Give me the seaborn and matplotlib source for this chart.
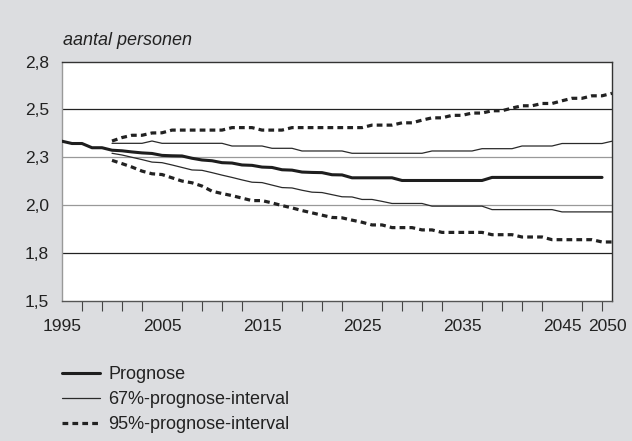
import pandas as pd
import matplotlib.pyplot as plt
import seaborn as sns

# Gemiddelde huishoudensgrootte (aantal personen), prognose en intervallen
jaren_prognose = list(range(1995, 2050))
prognose = [
    2.334, 2.322, 2.322, 2.300, 2.300,                                      # 1995-1999
    2.287, 2.284, 2.278, 2.273, 2.270, 2.260, 2.258, 2.257, 2.245, 2.236,  # 2000-2009
    2.232, 2.222, 2.220, 2.210, 2.208, 2.199, 2.197, 2.185, 2.183, 2.173,  # 2010-2019
    2.171, 2.170, 2.159, 2.158, 2.143, 2.143, 2.143, 2.143, 2.143, 2.129,  # 2020-2029
    2.129, 2.129, 2.129, 2.129, 2.129, 2.129, 2.129, 2.129, 2.145, 2.145,  # 2030-2039
    2.145, 2.145, 2.145, 2.145, 2.145, 2.145, 2.145, 2.145, 2.145, 2.145,  # 2040-2049
]

jaren_interval = list(range(2000, 2051))
int67_boven = [
    2.323, 2.323, 2.323, 2.323, 2.335, 2.323, 2.323, 2.323, 2.323, 2.323,
    2.323, 2.323, 2.309, 2.309, 2.309, 2.309, 2.297, 2.297, 2.297, 2.283,
    2.283, 2.283, 2.283, 2.283, 2.271, 2.271, 2.271, 2.271, 2.271, 2.271,
    2.271, 2.271, 2.283, 2.283, 2.283, 2.283, 2.283, 2.295, 2.295, 2.295,
    2.295, 2.309, 2.309, 2.309, 2.309, 2.322, 2.322, 2.322, 2.322, 2.322,
    2.334,
]
int67_onder = [
    2.271, 2.262, 2.250, 2.238, 2.225, 2.222, 2.210, 2.197, 2.184, 2.182,
    2.170, 2.157, 2.145, 2.132, 2.120, 2.118, 2.105, 2.092, 2.090, 2.078,
    2.068, 2.066, 2.055, 2.044, 2.043, 2.030, 2.030, 2.020, 2.009, 2.009,
    2.009, 2.009, 1.995, 1.995, 1.995, 1.995, 1.995, 1.995, 1.977, 1.977,
    1.977, 1.977, 1.977, 1.977, 1.977, 1.965, 1.965, 1.965, 1.965, 1.965,
    1.965,
]
int95_boven = [
    2.335, 2.353, 2.365, 2.365, 2.377, 2.378, 2.392, 2.392, 2.392, 2.392,
    2.392, 2.392, 2.405, 2.405, 2.405, 2.392, 2.392, 2.392, 2.405, 2.405,
    2.405, 2.405, 2.405, 2.405, 2.405, 2.405, 2.418, 2.418, 2.418, 2.430,
    2.430, 2.444, 2.456, 2.456, 2.469, 2.469, 2.481, 2.481, 2.493, 2.493,
    2.507, 2.519, 2.519, 2.531, 2.531, 2.545, 2.558, 2.558, 2.571, 2.571,
    2.584,
]
int95_onder = [
    2.234, 2.217, 2.199, 2.178, 2.164, 2.160, 2.143, 2.126, 2.117, 2.100,
    2.073, 2.061, 2.050, 2.037, 2.024, 2.024, 2.012, 1.998, 1.986, 1.972,
    1.960, 1.948, 1.936, 1.934, 1.922, 1.911, 1.897, 1.897, 1.883, 1.883,
    1.883, 1.871, 1.871, 1.858, 1.858, 1.858, 1.858, 1.858, 1.846, 1.846,
    1.846, 1.834, 1.834, 1.834, 1.820, 1.820, 1.820, 1.820, 1.820, 1.808,
    1.808,
]

legend_labels = ['Prognose', '67%-prognose-interval', '95%-prognose-interval']

y_ticks = [1.5, 1.75, 2.0, 2.25, 2.5, 2.75]
y_labels = ['1,5', '1,8', '2,0', '2,3', '2,5', '2,8']
x_label_pos = [1995, 2005, 2015, 2025, 2035, 2045, 2049.5]
x_labels = ['1995', '2005', '2015', '2025', '2035', '2045', '2050']
x_minor = list(range(1995, 2050, 2))

# Gridline values and their colours
grid_vals = [2.5, 2.25, 2.0, 1.75]
grid_colors = ['#222222', '#999999', '#999999', '#222222']

bg = '#dcdde0'

sns.set_style('white')
plt.rcParams['font.family'] = ['Liberation Sans', 'DejaVu Sans']

fig = plt.figure(figsize=(6.32, 4.41), dpi=100, facecolor=bg)
ax = fig.add_axes([0.0981, 0.3175, 0.8703, 0.543])
ax.set_facecolor('white')

for v, c in zip(grid_vals, grid_colors):
    ax.axhline(v, color=c, lw=0.9, zorder=1)

dash = (0, (1.8, 1.3))
series = [
    (jaren_interval, int95_boven, dict(color='#222222', lw=2.3, linestyle=dash), 2),
    (jaren_interval, int95_onder, dict(color='#222222', lw=2.3, linestyle=dash), None),
    (jaren_interval, int67_boven, dict(color='#2a2a2a', lw=0.9), 1),
    (jaren_interval, int67_onder, dict(color='#2a2a2a', lw=0.9), None),
    (jaren_prognose, prognose, dict(color='#1e1e1e', lw=2.2), 0),
]

handles = {}
for x, y, style, idx in series:
    sns.lineplot(x=x, y=y, ax=ax, legend=False, zorder=3, **style)
    if idx is not None:
        handles[idx] = ax.lines[-1]

ax.set_xlim(1995, 2050)
ax.set_ylim(1.5, 2.75)

ax.set_yticks(y_ticks)
ax.set_yticklabels(y_labels)
ax.tick_params(axis='y', length=0, pad=9.5, labelsize=12.5, colors='#222222')

ax.set_xticks(x_label_pos)
ax.set_xticklabels(x_labels)
ax.set_xticks(x_minor, minor=True)
ax.tick_params(axis='x', which='major', bottom=True, length=0, pad=13,
               labelsize=12.5, colors='#222222')
ax.tick_params(axis='x', which='minor', bottom=True, length=7.5, width=0.8,
               color='#444444')
ax.set_xlabel('')
ax.set_ylabel('')

for side, col in [('top', '#333333'), ('right', '#333333'), ('bottom', '#555555'), ('left', '#999999')]:
    ax.spines[side].set_visible(True)
    ax.spines[side].set_color(col)
    ax.spines[side].set_linewidth(1.0)

fig.text(63 / 632, 1 - 45 / 441, 'aantal personen', fontsize=13, style='italic',
         color='#222222', va='baseline', ha='left')

leg = ax.legend([handles[i] for i in range(3)], legend_labels,
                loc='upper left', bbox_to_anchor=(62 / 632, 1 - 366 / 441),
                bbox_transform=fig.transFigure, frameon=False, fontsize=13,
                handlelength=2.1, handletextpad=0.45, labelspacing=0.45,
                borderpad=0, borderaxespad=0)
for t in leg.get_texts():
    t.set_color('#222222')

fig.savefig('out.png', dpi=100, facecolor=bg)
